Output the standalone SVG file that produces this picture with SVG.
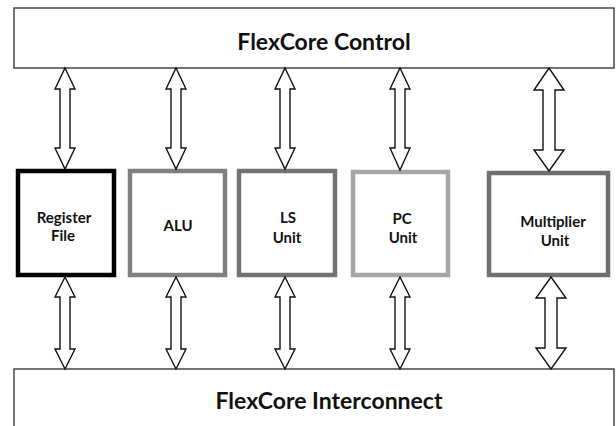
<svg xmlns="http://www.w3.org/2000/svg" width="616" height="426" viewBox="0 0 616 426">
<style>
  .bar { fill: #ffffff; stroke: #3a3a3a; stroke-width: 1.4; }
  .unit { fill: #ffffff; stroke-width: 4.5; }
  .arrow { fill: #ffffff; stroke: #111111; stroke-width: 1.4; stroke-linejoin: miter; }
  .big { font-family: Lato, "Liberation Sans", sans-serif; font-weight: bold; font-size: 23px; fill: #111111; text-anchor: middle; }
  .lbl { font-family: Lato, "Liberation Sans", sans-serif; font-weight: bold; font-size: 15px; fill: #111111; text-anchor: middle; }
</style>
<rect width="616" height="426" fill="#ffffff"/>
<g id="control">
  <rect class="bar" x="14" y="8" width="600" height="60"/>
  <text class="big" x="324" y="50">FlexCore Control</text>
</g>
<g id="interconnect">
  <rect class="bar" x="14" y="369" width="600" height="70"/>
  <text class="big" x="329" y="409">FlexCore Interconnect</text>
</g>
<g id="register-file">
  <rect class="unit" x="18" y="171" width="96" height="104" stroke="#000000"/>
  <text class="lbl" x="64" y="223">Register</text>
  <text class="lbl" x="63" y="241">File</text>
</g>
<g id="alu">
  <rect class="unit" x="130" y="171" width="95" height="104" stroke="#7f7f7f"/>
  <text class="lbl" x="178" y="231">ALU</text>
</g>
<g id="ls-unit">
  <rect class="unit" x="239" y="171" width="96" height="104" stroke="#737373"/>
  <text class="lbl" x="288" y="223">LS</text>
  <text class="lbl" x="287" y="243">Unit</text>
</g>
<g id="pc-unit">
  <rect class="unit" x="353" y="172" width="95" height="103" stroke="#a6a6a6"/>
  <text class="lbl" x="402" y="224">PC</text>
  <text class="lbl" x="403" y="243">Unit</text>
</g>
<g id="multiplier-unit">
  <rect class="unit" x="489" y="173" width="119" height="102" stroke="#707070"/>
  <text class="lbl" x="553" y="227">Multiplier</text>
  <text class="lbl" x="555" y="246">Unit</text>
</g>
<g id="connectors">
  <polygon class="arrow" points="65,68 75,89 70,89 70,148 75,148 65,169 55,148 60,148 60,89 55,89"/>
  <polygon class="arrow" points="176,68 186,89 181,89 181,148 186,148 176,169 166,148 171,148 171,89 166,89"/>
  <polygon class="arrow" points="285,68 295,89 290,89 290,148 295,148 285,169 275,148 280,148 280,89 275,89"/>
  <polygon class="arrow" points="400,68 410,89 405,89 405,148 410,148 400,170 390,148 395,148 395,89 390,89"/>
  <polygon class="arrow" points="549,68 564,90 555,90 555,150 564,150 549,171 534,150 543,150 543,90 534,90"/>
  <polygon class="arrow" points="65,277 75,297 70,297 70,349 75,349 65,369 55,349 60,349 60,297 55,297"/>
  <polygon class="arrow" points="176,277 186,297 181,297 181,349 186,349 176,369 166,349 171,349 171,297 166,297"/>
  <polygon class="arrow" points="285,277 295,297 290,297 290,349 295,349 285,369 275,349 280,349 280,297 275,297"/>
  <polygon class="arrow" points="400,277 410,297 405,297 405,349 410,349 400,369 390,349 395,349 395,297 390,297"/>
  <polygon class="arrow" points="551,277 566,298 557,298 557,348 566,348 551,369 536,348 545,348 545,298 536,298"/>
</g>
</svg>
